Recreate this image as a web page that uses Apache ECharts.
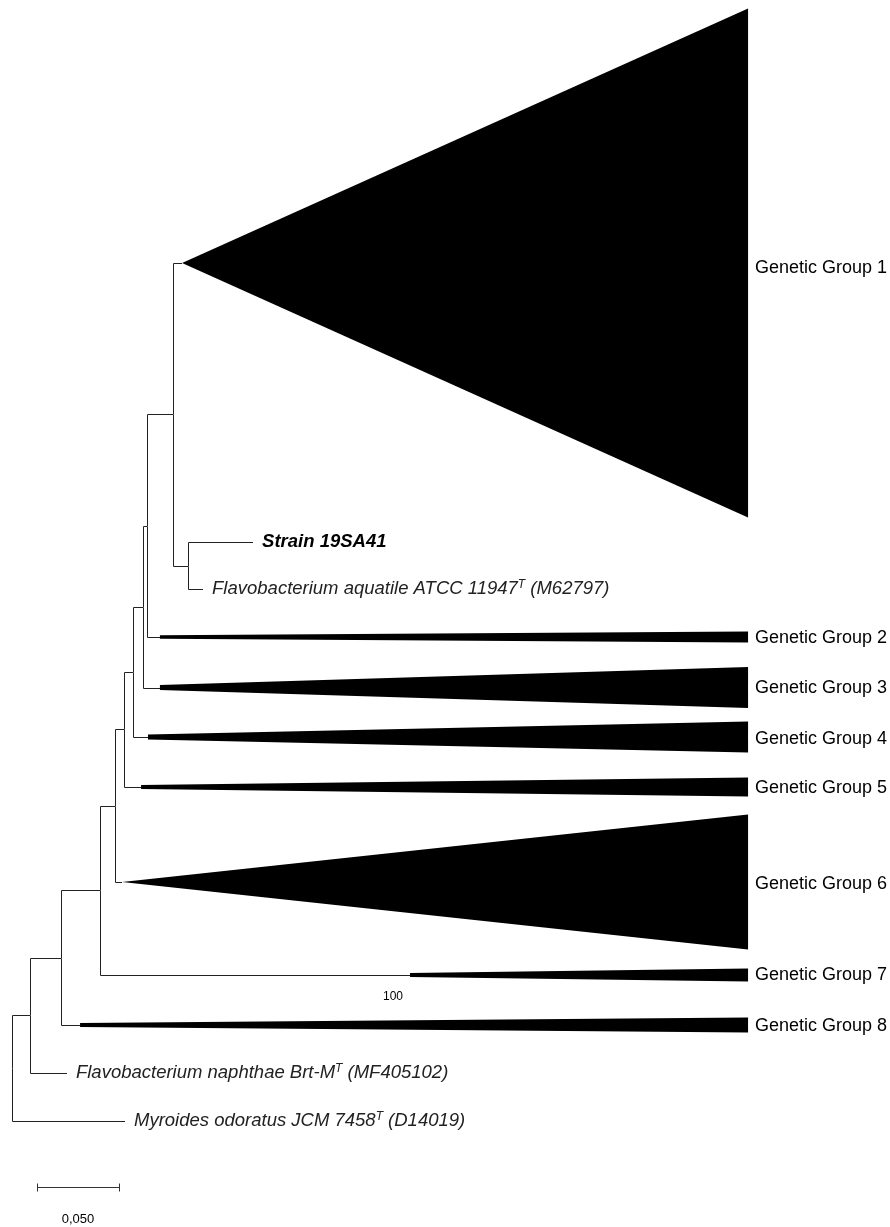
<!DOCTYPE html>
<html><head><meta charset="utf-8">
<script src="https://cdn.jsdelivr.net/npm/echarts@6/dist/echarts.min.js"></script>
<style>html,body{margin:0;padding:0;background:#fff}#c{width:890px;height:1227px}</style>
</head><body><div id="c"></div>
<script>
// ---- Tree data (x = distance from root in substitutions/site, y = row position) ----
// internal nodes
const nodeNames  = ['root','B','C','D','E','F','G','H','I','J','K'];
const nodeParent = [-1, 0, 1, 2, 3, 4, 5, 6, 7, 8, 9];
const nodeDepth  = [0, 0.0110, 0.0299, 0.0537, 0.0628, 0.0683, 0.0738, 0.0799, 0.0823, 0.0982, 0.1073];

// leaves / collapsed clades
const leafKind    = ['group','strain','species','group','group','group','group','group','group','group','species','species'];
const leafName    = ['Genetic Group 1','Strain 19SA41','Flavobacterium aquatile ATCC 11947','Genetic Group 2','Genetic Group 3','Genetic Group 4','Genetic Group 5','Genetic Group 6','Genetic Group 7','Genetic Group 8','Flavobacterium naphthae Brt-M','Myroides odoratus JCM 7458'];
const leafSup     = ['','','T','','','','','','','','T','T'];
const leafAccession = ['','',' (M62797)','','','','','','','',' (MF405102)',' (D14019)'];
const leafParent  = [9, 10, 10, 8, 7, 6, 5, 4, 3, 2, 1, 0];
const leafRow     = [4.52, 10.10, 11.04, 12.00, 13.01, 14.00, 15.00, 16.90, 18.76, 19.76, 20.72, 21.68];
const leafDepth   = [0.1037, 0.1470, 0.1165, 0.0902, 0.0902, 0.0829, 0.0787, 0.0671, 0.2427, 0.0415, 0.0335, 0.0689];
// collapsed clade triangles
const cladeEnd       = [0.4488, null, null, 0.4488, 0.4488, 0.4488, 0.4488, 0.4488, 0.4488, 0.4488, null, null];
const cladeSpanStart = [0, 0, 0, 0.07, 0.10, 0.10, 0.08, 0, 0.08, 0.08, 0, 0];
const cladeSpanEnd   = [10.18, 0, 0, 0.22, 0.82, 0.62, 0.38, 2.70, 0.26, 0.30, 0, 0];
const labelShift     = [0.1, 0, 0, 0.02, 0.02, 0.04, 0.02, 0.04, 0, 0.02, 0, 0];

// bootstrap support
const bootstrapLeaf  = [8];
const bootstrapValue = ['100'];
const bootstrapDepth = [0.2323];

// scale bar
const scaleBarStart = 0.0152;
const scaleBarLength = 0.05;
const scaleBarRow = 23.0;
const scaleBarLabel = '0,050';

// ---- layout: internal node rows are midpoint of children ----
const nodeRow = new Array(nodeNames.length).fill(0);
for (let n = nodeNames.length - 1; n >= 0; n--) {
  const rows = [];
  leafParent.forEach((p, i) => { if (p === n) rows.push(leafRow[i]); });
  nodeParent.forEach((p, i) => { if (p === n) rows.push(nodeRow[i]); });
  nodeRow[n] = (Math.min(...rows) + Math.max(...rows)) / 2;
}
const edges = [];
nodeParent.forEach((p, i) => { if (p >= 0) edges.push([nodeDepth[p], nodeRow[p], nodeDepth[i], nodeRow[i]]); });
leafParent.forEach((p, i) => { edges.push([nodeDepth[p], nodeRow[p], leafDepth[i], leafRow[i]]); });

const wedges = [];
leafParent.forEach((p, i) => { if (cladeEnd[i] != null) wedges.push([leafDepth[i], leafRow[i], cladeEnd[i], cladeSpanStart[i], cladeSpanEnd[i]]); });

const labels = leafName.map((nm, i) => [cladeEnd[i] != null ? cladeEnd[i] : leafDepth[i], leafRow[i] + labelShift[i], i]);

const FONT = '"Liberation Sans", Arial, sans-serif';
const crisp = v => Math.round(v) + 0.5;

const chart = echarts.init(document.getElementById('c'), null, {renderer: 'canvas'});
chart.setOption({
  animation: false,
  backgroundColor: '#fff',
  grid: {left: 12, right: 58, top: 12, bottom: 15},
  xAxis: {type: 'value', min: 0, max: 0.5, show: false},
  yAxis: {type: 'value', min: -0.5, max: 23.5, inverse: true, show: false},
  series: [
    {
      type: 'custom', clip: false, data: edges,
      renderItem: (params, api) => {
        const a = api.coord([api.value(0), api.value(1)]);
        const b = api.coord([api.value(0), api.value(3)]);
        const c = api.coord([api.value(2), api.value(3)]);
        return {type: 'polyline', shape: {points: [[crisp(a[0]), Math.round(a[1])+0.5], [crisp(b[0]), crisp(b[1])], [Math.round(c[0]), crisp(c[1])]]},
          style: {stroke: '#222', lineWidth: 1, fill: null}};
      }
    },
    {
      type: 'custom', clip: false, data: wedges,
      renderItem: (params, api) => {
        const x0 = api.value(0), r = api.value(1), x1 = api.value(2), s0 = api.value(3), s1 = api.value(4);
        const pts = [[x0, r - s0/2], [x1, r - s1/2], [x1, r + s1/2], [x0, r + s0/2]].map(p => api.coord(p));
        return {type: 'polygon', shape: {points: pts}, style: {fill: '#000'}};
      }
    },
    {
      type: 'custom', clip: false, data: labels,
      renderItem: (params, api) => {
        const i = api.value(2);
        const p = api.coord([api.value(0), api.value(1)]);
        const kind = leafKind[i];
        let text, off;
        if (kind === 'group') { text = '{n|' + leafName[i] + '}'; off = 7; }
        else if (kind === 'strain') { text = '{b|' + leafName[i] + '}'; off = 9; }
        else { text = '{i|' + leafName[i] + '}{s|' + leafSup[i] + '}{i|' + leafAccession[i] + '}'; off = 9; }
        return {type: 'text', x: p[0] + off, y: p[1],
          style: {text: text, align: 'left', verticalAlign: 'middle', fill: '#000',
            rich: {
              n: {fontSize: 18, fontFamily: FONT, fill: '#000', lineHeight: 20},
              b: {fontSize: 18.5, fontFamily: FONT, fontWeight: 'bold', fontStyle: 'italic', fill: '#000', lineHeight: 20},
              i: {fontSize: 18.5, fontFamily: FONT, fontStyle: 'italic', fill: '#222', lineHeight: 20},
              s: {fontSize: 12, fontFamily: FONT, fontStyle: 'italic', fill: '#222', lineHeight: 20, verticalAlign: 'top'}
            }}};
      }
    },
    {
      type: 'custom', clip: false, data: bootstrapLeaf.map((l, k) => [bootstrapDepth[k], leafRow[l], k]),
      renderItem: (params, api) => {
        const p = api.coord([api.value(0), api.value(1)]);
        return {type: 'text', x: p[0], y: p[1] + 22,
          style: {text: bootstrapValue[api.value(2)], align: 'center', verticalAlign: 'middle', fill: '#000', fontSize: 12, fontFamily: FONT}};
      }
    },
    {
      type: 'custom', clip: false, data: [[scaleBarStart, scaleBarRow, scaleBarStart + scaleBarLength]],
      renderItem: (params, api) => {
        const a = api.coord([api.value(0), api.value(1)]);
        const b = api.coord([api.value(2), api.value(1)]);
        const y = crisp(a[1]);
        return {type: 'group', children: [
          {type: 'polyline', shape: {points: [[crisp(a[0]), y], [crisp(b[0]), y]]}, style: {stroke: '#333', lineWidth: 1, fill: null}},
          {type: 'polyline', shape: {points: [[crisp(a[0]), y - 4], [crisp(a[0]), y + 4]]}, style: {stroke: '#333', lineWidth: 1, fill: null}},
          {type: 'polyline', shape: {points: [[crisp(b[0]), y - 4], [crisp(b[0]), y + 4]]}, style: {stroke: '#333', lineWidth: 1, fill: null}},
          {type: 'text', x: (a[0] + b[0]) / 2, y: a[1] + 32, style: {text: scaleBarLabel, align: 'center', verticalAlign: 'middle', fill: '#000', fontSize: 13, fontFamily: FONT}}
        ]};
      }
    }
  ]
});
</script>
</body></html>
